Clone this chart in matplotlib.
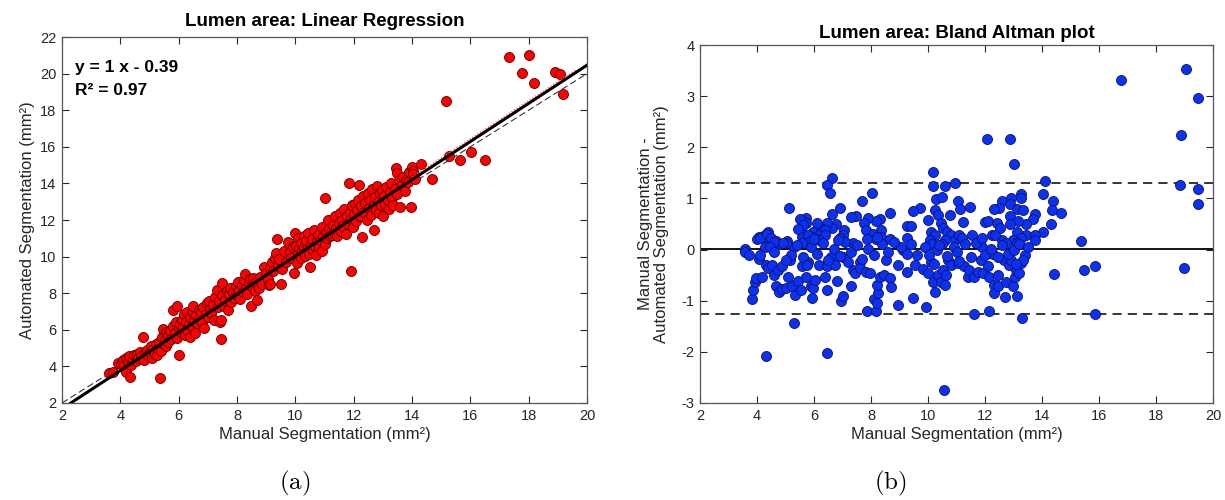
import matplotlib
matplotlib.use("Agg")
import matplotlib.pyplot as plt
import numpy as np

plt.rcParams['font.family'] = ['Liberation Sans', 'DejaVu Sans']
plt.rcParams['mathtext.fontset'] = 'cm'
plt.rcParams['axes.unicode_minus'] = False

# ---------------- Panel (a): linear regression ----------------
reg_manual = [
    3.62, 3.75, 3.93, 4.02, 4.08, 4.12, 4.18, 4.20, 4.25, 4.30, 4.34, 4.38, 4.42, 4.48, 4.52, 4.58, 4.62, 4.68, 4.72, 4.77, 4.80, 4.85, 4.90, 4.95, 5.00,
    5.05, 5.08, 5.12, 5.18, 5.22, 5.25, 5.30, 5.32, 5.36, 5.40, 5.42, 5.45, 5.48, 5.52, 5.55, 5.58, 5.62, 5.65, 5.70, 5.75, 5.80, 5.82, 5.86, 5.90, 5.93, 5.95, 6.00, 6.00,
    6.05, 6.08, 6.12, 6.15, 6.18, 6.20, 6.24, 6.28, 6.30, 6.34, 6.38, 6.40, 6.44, 6.48, 6.50, 6.52, 6.56, 6.60, 6.64, 6.68, 6.72, 6.76, 6.80, 6.85, 6.88, 6.92, 6.96, 7.00,
    7.04, 7.08, 7.12, 7.18, 7.22, 7.26, 7.30, 7.34, 7.38, 7.42, 7.45, 7.45, 7.47, 7.50, 7.55, 7.60, 7.64, 7.68, 7.72, 7.76, 7.80, 7.85, 7.90, 7.95,
    8.00, 8.04, 8.08, 8.12, 8.16, 8.20, 8.24, 8.29, 8.32, 8.36, 8.40, 8.44, 8.48, 8.52, 8.56, 8.60, 8.65, 8.70, 8.74, 8.80, 8.86, 8.93,
    9.00, 9.05, 9.08, 9.12, 9.14, 9.20, 9.25, 9.30, 9.34, 9.36, 9.40, 9.45, 9.50, 9.55, 9.62, 9.68, 9.75, 9.80, 9.86, 9.92, 9.97, 9.98,
    10.02, 10.05, 10.08, 10.10, 10.14, 10.18, 10.20, 10.24, 10.28, 10.30, 10.34, 10.38, 10.40, 10.44, 10.48, 10.50, 10.52, 10.56, 10.60, 10.64, 10.66, 10.70, 10.74, 10.78, 10.82, 10.86, 10.90, 10.93, 10.96, 11.00, 11.02, 11.05,
    11.10, 11.13, 11.16, 11.20, 11.24, 11.28, 11.32, 11.36, 11.40, 11.44, 11.48, 11.52, 11.56, 11.60, 11.64, 11.68, 11.72, 11.76, 11.80, 11.83, 11.86, 11.90, 11.92, 11.95, 11.98, 12.00,
    12.04, 12.08, 12.12, 12.16, 12.20, 12.22, 12.26, 12.29, 12.32, 12.36, 12.40, 12.44, 12.48, 12.52, 12.56, 12.60, 12.64, 12.68, 12.70, 12.72, 12.76, 12.80, 12.84, 12.88, 12.90, 12.94, 12.98, 13.00,
    13.04, 13.08, 13.12, 13.16, 13.20, 13.24, 13.28, 13.32, 13.36, 13.40, 13.45, 13.48, 13.50, 13.55, 13.60, 13.65, 13.70, 13.75, 13.80, 13.85, 13.90, 13.97, 14.00, 14.02, 14.05, 14.10, 14.32, 14.68,
    15.15, 15.27, 15.63, 16.02, 16.50, 17.33, 17.77, 18.00, 18.20, 18.90, 19.06, 19.18,
]
reg_auto = [
    3.62, 3.71, 4.20, 4.15, 4.35, 4.05, 3.72, 4.45, 4.25, 4.55, 3.44, 4.10, 4.40, 4.62, 4.30, 4.70, 4.48, 4.80, 4.55, 5.59, 4.35, 4.72, 4.90, 4.60, 4.80,
    5.10, 4.45, 4.95, 4.70, 5.20, 4.60, 5.00, 5.35, 3.35, 4.85, 5.60, 6.05, 5.25, 5.45, 5.90, 5.10, 5.70, 5.35, 5.95, 5.50, 7.09, 6.20, 5.80, 6.40, 7.30, 5.55, 4.63, 6.10,
    6.30, 5.90, 6.55, 6.15, 6.85, 5.70, 6.45, 6.00, 6.95, 6.30, 5.60, 6.70, 6.20, 7.00, 7.30, 6.50, 5.85, 6.80, 6.35, 7.10, 6.65, 6.95, 6.40, 7.25, 6.10, 6.85, 7.45, 6.70,
    7.60, 7.15, 6.90, 7.40, 6.55, 7.80, 8.20, 7.25, 7.55, 6.45, 5.48, 6.54, 8.58, 7.90, 7.30, 7.65, 8.10, 7.10, 7.95, 8.30, 7.50, 8.05, 7.75, 8.40,
    7.90, 8.60, 8.20, 7.70, 8.45, 8.05, 8.70, 9.03, 8.30, 7.95, 8.55, 8.80, 7.30, 8.40, 8.85, 8.10, 8.60, 7.63, 8.30, 8.90, 8.50, 9.45,
    9.10, 8.75, 8.45, 9.40, 8.50, 9.70, 9.20, 9.95, 10.18, 10.95, 9.50, 9.85, 8.50, 9.30, 10.30, 9.70, 10.80, 10.25, 9.95, 10.50, 9.09, 11.27,
    10.60, 9.67, 10.20, 11.00, 10.45, 9.95, 10.75, 10.30, 11.10, 10.55, 10.05, 10.85, 10.40, 11.30, 10.15, 9.42, 10.70, 10.95, 10.35, 11.45, 10.60, 10.10, 10.85, 11.20, 10.50, 10.90, 11.60, 10.30, 11.05, 13.20, 10.70, 11.35,
    11.00, 12.00, 11.50, 11.15, 11.20, 11.70, 11.30, 12.20, 11.55, 11.10, 11.85, 12.40, 11.40, 12.00, 11.65, 12.60, 11.25, 12.20, 11.80, 14.00, 12.45, 12.05, 9.23, 12.80, 11.60, 12.35,
    12.90, 11.95, 12.55, 13.10, 13.90, 12.20, 12.75, 11.05, 13.30, 12.45, 12.95, 12.00, 13.50, 12.65, 13.10, 12.30, 13.70, 12.85, 11.45, 13.25, 12.55, 13.85, 13.00, 12.40, 13.45, 12.80, 13.65, 12.20,
    13.30, 12.90, 13.80, 13.10, 12.60, 13.55, 14.00, 13.20, 12.80, 13.70, 14.83, 14.55, 13.40, 14.20, 12.70, 13.90, 14.35, 13.60, 14.20, 14.05, 14.60, 12.70, 14.90, 14.70, 14.50, 14.25, 15.07, 14.24,
    18.48, 15.47, 15.28, 15.74, 15.28, 20.90, 20.03, 21.00, 19.50, 20.10, 19.97, 18.86,
]
fit_slope = 1.043
fit_intercept = -0.40
eq_line1 = "y = 1 x - 0.39"
eq_line2 = "R² = 0.97"

# ---------------- Panel (b): Bland-Altman ----------------
ba_x = [
    16.78, 19.06, 19.47, 18.87, 18.83, 19.47, 19.47, 12.07, 12.88, 13.02, 14.09, 14.02, 14.40, 14.36, 14.66, 13.74, 14.32, 14.02, 13.68, 13.43,
    13.26, 13.26, 12.92, 12.58, 12.88, 12.48, 12.30, 13.13, 13.33, 12.88, 13.16, 12.88, 12.00, 12.12, 12.41, 12.51, 12.24, 13.13, 13.43, 13.77,
    13.26, 13.74, 12.60, 12.98, 12.74, 13.13, 15.37, 11.89, 11.55, 11.48, 11.04, 11.13, 10.93, 10.16, 10.19, 10.59, 10.27, 10.48, 10.78, 11.23,
    9.99, 10.24, 10.35, 10.45, 10.52, 10.10, 10.24, 10.65, 10.79, 10.93, 11.10, 11.20, 10.08, 10.59, 10.50, 10.13, 9.73, 9.46, 9.28, 9.42,
    9.28, 9.14, 9.07, 8.66, 8.02, 7.70, 8.32, 8.18, 8.35, 7.90, 7.77, 7.84, 8.07, 8.35, 8.66, 8.18, 7.87, 7.49, 7.29, 7.36,
    6.92, 6.64, 6.64, 6.44, 6.57, 6.77, 6.62, 7.05, 7.01, 6.92, 6.44, 6.26, 6.12, 6.37, 5.98, 6.19, 6.40, 5.95, 6.19, 5.71,
    5.71, 5.57, 5.57, 5.78, 5.85, 5.57, 5.13, 5.05, 5.30, 4.40, 4.27, 4.06, 4.20, 4.40, 4.54, 4.68, 4.77, 4.27, 4.54, 3.58,
    4.00, 4.10, 4.35, 4.50, 4.60, 5.50, 5.60, 5.45, 5.00,
    3.58, 3.72, 4.06, 3.84, 3.87, 3.92, 3.95, 4.17, 4.32, 4.33, 4.40, 4.54, 4.61, 4.68, 4.77, 4.88, 5.02, 4.75, 4.88, 5.09,
    5.16, 5.30, 5.23, 5.32, 5.43, 5.53, 5.57, 5.71, 5.78, 5.94, 5.89, 5.98, 6.05, 6.19, 6.37, 6.46, 6.44, 6.46, 6.60, 6.74,
    6.81, 6.95, 7.01, 7.01, 7.29, 7.36, 7.43, 7.63, 7.63, 7.84, 7.87, 7.98, 8.09, 8.18, 8.22, 8.26, 8.22, 8.32, 8.46, 8.53,
    8.66, 8.70, 8.94, 8.96, 9.25, 9.25, 9.49, 9.53, 9.94, 9.83, 9.99, 10.10, 10.17, 10.24, 10.35, 10.45, 10.52, 10.56, 10.59, 10.63,
    10.69, 10.79, 11.07, 11.27, 11.41, 11.45, 11.62, 11.62, 11.75, 11.86, 11.92, 12.10, 12.14, 12.14, 12.27, 12.30, 12.33, 12.44, 12.47, 12.65,
    12.71, 12.74, 12.85, 12.92, 12.99, 13.05, 13.10, 13.13, 13.19, 13.29, 13.26, 13.40, 14.43, 15.46, 15.87, 15.87, 18.99,
    4.45, 4.60, 4.90, 5.20, 5.40, 5.60, 5.90, 6.10, 6.30, 6.50, 6.70, 6.90, 7.10, 7.30, 7.50, 7.70, 7.90, 8.10, 8.40, 8.60,
    8.80, 9.60, 9.90, 10.05, 10.30, 10.40, 10.65, 10.90, 11.00, 11.30, 11.50, 11.70, 12.00, 12.20, 12.45, 12.60, 12.80, 13.00, 13.20, 13.35,
    13.50, 4.10, 5.00, 5.75, 6.00, 6.85, 7.20, 8.20, 9.40, 10.20, 11.10, 11.90, 12.35, 13.10,
]
ba_diff = [
    3.32, 3.53, 2.97, 2.25, 1.27, 1.19, 0.89, 2.16, 2.16, 1.67, 1.34, 1.08, 0.95, 0.77, 0.72, 0.69, 0.50, 0.35, 0.60, 0.50,
    1.08, 1.00, 1.00, 0.94, 0.90, 0.82, 0.79, 0.80, 0.77, 0.66, 0.56, 0.50, 0.53, 0.56, 0.52, 0.42, 0.29, 0.35, 0.29, 0.29,
    0.23, 0.19, 0.19, 0.19, 0.13, 0.13, 0.17, 0.05, 0.29, 0.84, 0.94, 0.79, 1.30, 1.52, 1.25, 1.25, 0.99, 1.03, 0.67, 0.54,
    0.58, 0.77, 0.67, 0.52, 0.42, 0.35, 0.29, 0.35, 0.29, 0.19, 0.29, 0.23, 0.19, 0.19, 0.10, 0.11, 0.81, 0.76, 0.47, 0.47,
    0.23, 0.00, 0.06, 0.72, 1.11, 0.94, 0.60, 0.55, 0.39, 0.61, 0.52, 0.39, 0.30, 0.25, 0.21, 0.21, 0.21, 0.65, 0.63, 0.13,
    0.81, 0.69, 1.40, 1.26, 1.10, 0.50, 0.42, 0.39, 0.29, 0.23, 0.52, 0.42, 0.52, 0.39, 0.35, 0.29, 0.29, 0.25, 0.19, 0.61,
    0.52, 0.35, 0.25, 0.29, 0.16, 0.13, 0.81, 0.16, 0.06, 0.35, 0.29, 0.24, 0.24, 0.16, 0.19, 0.16, 0.10, 0.05, 0.03, 0.02,
    0.20, 0.22, 0.30, 0.22, 0.15, 0.60, 0.48, 0.40, 0.12,
    -0.04, -0.11, -0.19, -0.97, -0.79, -0.64, -0.56, -0.53, -2.08, -0.30, -0.37, -0.30, -0.49, -0.72, -0.83, -0.78, -0.75, -0.40, -0.33, -0.53,
    -0.21, -1.44, -0.72, -0.88, -0.62, -0.79, -0.33, -0.53, -0.24, -0.94, -0.71, -0.75, -0.59, -0.30, -0.53, -0.79, -2.03, -0.33, -0.14, -0.30,
    -0.62, -1.01, -0.91, -0.15, -0.71, -0.40, -0.46, -0.24, -0.37, -0.43, -1.21, -0.46, -0.97, -1.20, -1.05, -0.85, -0.69, -0.53, -0.49, -0.21,
    -0.56, -0.73, -0.30, -1.09, -0.08, -0.43, -0.94, -0.30, -1.13, -0.38, -0.46, -0.24, -0.64, -0.83, -0.49, -0.64, -0.40, -2.74, -0.69, -0.49,
    -0.21, -0.30, -0.27, -0.33, -0.53, -0.40, -1.26, -0.53, -0.43, -0.21, -0.46, -0.33, -1.20, -0.53, -0.08, -0.69, -0.85, -0.49, -0.72, -0.21,
    -0.92, -0.64, -0.30, -0.21, -0.72, -0.53, -0.40, -0.91, -0.46, -1.33, -0.27, -0.11, -0.47, -0.40, -0.33, -1.25, -0.37,
    0.05, -0.05, 0.12, -0.10, 0.08, -0.15, 0.05, -0.08, 0.12, -0.20, 0.02, -0.12, 0.15, -0.05, 0.08, -0.18, 0.02, -0.10, 0.10, -0.05,
    0.15, -0.10, 0.05, -0.10, 0.00, 0.08, -0.12, 0.05, -0.05, 0.10, -0.15, 0.12, -0.10, 0.02, -0.15, 0.08, -0.08, 0.00, 0.10, -0.20,
    0.05, -0.10, -0.20, -0.30, 0.20, 0.18, -0.25, 0.25, 0.10, -0.28, -0.22, 0.22, 0.28, -0.28,
]
ba_mean_line = 0.02
ba_upper = 1.30
ba_lower = -1.26

# ---------------- figure ----------------
fig = plt.figure(figsize=(12.25, 5.0), dpi=100)
ax1 = fig.add_axes([62/1225, 97/500, 525/1225, 366/500])
ax2 = fig.add_axes([700/1225, 97/500, 513/1225, 358/500])

tick_col = '#262626'
for ax in (ax1, ax2):
    ax.tick_params(direction='in', top=True, right=True, length=5, width=0.8,
                   labelsize=10.5, colors=tick_col, pad=4)
    for s in ax.spines.values():
        s.set_color('#555555')
        s.set_linewidth(0.9)

# Panel a
ax1.scatter(reg_manual, reg_auto, s=52, c='#ff0000', edgecolors='#5a0000',
            linewidths=0.6, zorder=3)
xl = np.array([2.0, 20.0])
ax1.plot(xl, xl, ls=(0, (6, 3)), color='#333333', lw=0.8, zorder=2)
xf = np.array([2.3, 20.0])
ax1.plot(xf, fit_slope * xf + fit_intercept, color='black', lw=2.2, zorder=4)
xr = np.array([14.0, 19.6])
ax1.plot(xr, fit_slope * xr + fit_intercept + 0.15, color='#ff5555', lw=0.9,
         ls=(0, (1, 1.5)), zorder=3)
ax1.set_xlim(2, 20)
ax1.set_ylim(2, 22)
ax1.set_xticks(np.arange(2, 21, 2))
ax1.set_yticks(np.arange(2, 23, 2))
ax1.set_title('Lumen area: Linear Regression', fontsize=13.5, fontweight='bold', pad=8)
ax1.set_xlabel('Manual Segmentation (mm²)', fontsize=12, color=tick_col, labelpad=3)
ax1.set_ylabel('Automated Segmentation (mm²)', fontsize=12, color=tick_col, labelpad=4)
ax1.text(2.45, 20.35, eq_line1, fontsize=12.5, fontweight='bold', va='center')
ax1.text(2.45, 19.1, eq_line2, fontsize=12.5, fontweight='bold', va='center')

# Panel b
ax2.scatter(ba_x, ba_diff, s=52, c='#0a32f0', edgecolors='#10106a',
            linewidths=0.6, zorder=3)
ax2.axhline(ba_mean_line, color='black', lw=1.3, zorder=2)
ax2.axhline(ba_upper, color='black', lw=1.1, ls=(0, (6, 4)), zorder=2)
ax2.axhline(ba_lower, color='black', lw=1.1, ls=(0, (6, 4)), zorder=2)
ax2.set_xlim(2, 20)
ax2.set_ylim(-3, 4)
ax2.set_xticks(np.arange(2, 21, 2))
ax2.set_yticks(np.arange(-3, 5, 1))
ax2.set_title('Lumen area: Bland Altman plot', fontsize=13.5, fontweight='bold', pad=5)
ax2.set_xlabel('Manual Segmentation (mm²)', fontsize=12, color=tick_col, labelpad=3)
ax2.set_ylabel('Manual Segmentation -\nAutomated Segmentation (mm²)', fontsize=12,
               color=tick_col, labelpad=9, linespacing=1.1)

fig.text(295/1225, 1 - 483/500, r'$\mathrm{(a)}$', fontsize=18, ha='center', va='center')
fig.text(890/1225, 1 - 483/500, r'$\mathrm{(b)}$', fontsize=18, ha='center', va='center')

fig.savefig('out.png', dpi=100)
